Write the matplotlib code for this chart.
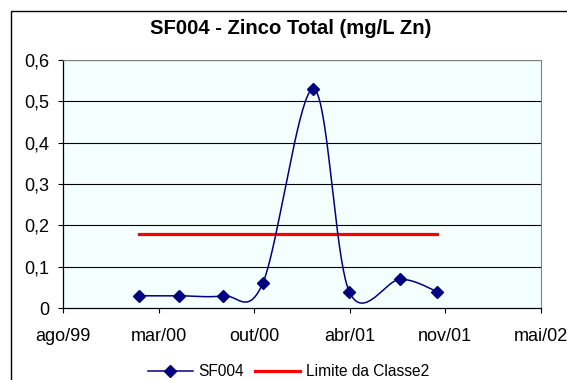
import matplotlib
matplotlib.use('Agg')
import matplotlib.pyplot as plt
import matplotlib.dates as mdates
import numpy as np
from datetime import date

plt.rcParams['font.family'] = ['Liberation Sans', 'DejaVu Sans']

# sample dates and values (mg/L Zn)
dates = ['2000-02-04', '2000-04-28', '2000-07-29', '2000-10-20',
         '2001-02-03', '2001-04-19', '2001-08-04', '2001-10-20']
values = [0.03, 0.03, 0.03, 0.06, 0.53, 0.04, 0.07, 0.04]
limit = [0.18] * len(dates)

title = 'SF004 - Zinco Total (mg/L Zn)'
series_name = 'SF004'
limit_name = 'Limite da Classe2'
months_pt = ['jan', 'fev', 'mar', 'abr', 'mai', 'jun',
             'jul', 'ago', 'set', 'out', 'nov', 'dez']

axis_start = date(1999, 8, 29)
tick_step = 200  # days between major ticks
n_ticks = 6

x = mdates.date2num(np.array(dates, dtype='datetime64[D]'))
y = np.array(values)

fig = plt.figure(figsize=(5.67, 3.8), dpi=100)
ax = fig.add_axes([0.111, 0.189, 0.843, 0.653])
ax.set_facecolor('#F4FFFF')

x0 = mdates.date2num(axis_start)
x1 = x0 + tick_step * (n_ticks - 1)
ax.set_xlim(x0, x1)
ax.set_ylim(0, 0.6)


# smooth line like the spreadsheet: Catmull-Rom bezier in pixel space
def smooth(xs, ys, sx, sy, n=40):
    px, py = xs * sx, ys * sy
    P = np.column_stack([px, py])
    P = np.vstack([P[0], P, P[-1]])
    out = []
    for i in range(1, len(P) - 2):
        p0, p1, p2, p3 = P[i - 1], P[i], P[i + 1], P[i + 2]
        c1 = p1 + (p2 - p0) / 6
        c2 = p2 - (p3 - p1) / 6
        t = np.linspace(0, 1, n)[:, None]
        seg = ((1 - t) ** 3) * p1 + 3 * ((1 - t) ** 2) * t * c1 + \
            3 * (1 - t) * t ** 2 * c2 + t ** 3 * p2
        out.append(seg)
    out = np.vstack(out)
    return out[:, 0] / sx, out[:, 1] / sy


sx = 478.0 / (x1 - x0)
sy = 248.0 / 0.6
cx, cy = smooth(x, y, sx, sy)

for v in np.arange(0.1, 0.61, 0.1):
    ax.axhline(v, color='black', lw=0.8, zorder=1)

ax.plot(x, limit, color='#FF0000', lw=2.3, zorder=2)
ax.plot(cx, cy, color='#000080', lw=1.1, zorder=3)
ax.plot(x, y, linestyle='none', marker='D', color='#000080', ms=5.8, zorder=4)

# legend handles
h1, = ax.plot([], [], color='#000080', lw=1.1, marker='D', ms=5.8)
h2, = ax.plot([], [], color='#FF0000', lw=2.3)

ticks = [x0 + tick_step * k for k in range(n_ticks)]
ax.set_xticks(ticks)
labels = []
for t in ticks:
    d = mdates.num2date(t)
    labels.append('%s/%02d' % (months_pt[d.month - 1], d.year % 100))
ax.set_xticklabels(labels)
ax.set_yticks(np.arange(0, 0.61, 0.1))
ax.set_yticklabels(['0'] + [('%.1f' % v).replace('.', ',') for v in np.arange(0.1, 0.61, 0.1)])
ax.tick_params(axis='both', direction='out', length=3.6, width=0.8, labelsize=13,
               colors='black')
ax.tick_params(axis='y', pad=6.5)
ax.tick_params(axis='x', pad=11)

for s in ['top', 'right']:
    ax.spines[s].set_color('#808080')
    ax.spines[s].set_linewidth(0.8)
for s in ['left', 'bottom']:
    ax.spines[s].set_color('black')
    ax.spines[s].set_linewidth(0.9)

fig.text(291 / 567, 1 - 29 / 380, title, ha='center', va='center',
         fontsize=14.6, fontweight='bold')

fig.legend([h1, h2], [series_name, limit_name], loc='center',
           bbox_to_anchor=(288.5 / 567, 1 - 372 / 380), ncol=2, frameon=False,
           fontsize=11.2, handlelength=2.9, handletextpad=0.38, columnspacing=0.7,
           borderaxespad=0, borderpad=0)

# outer chart border
fig.patches.append(plt.Rectangle((11 / 567, -0.1), 1.2, 1 - 11 / 380 + 0.1,
                                 transform=fig.transFigure, fill=False,
                                 edgecolor='black', lw=1.0))

fig.savefig('out.png', dpi=100)
